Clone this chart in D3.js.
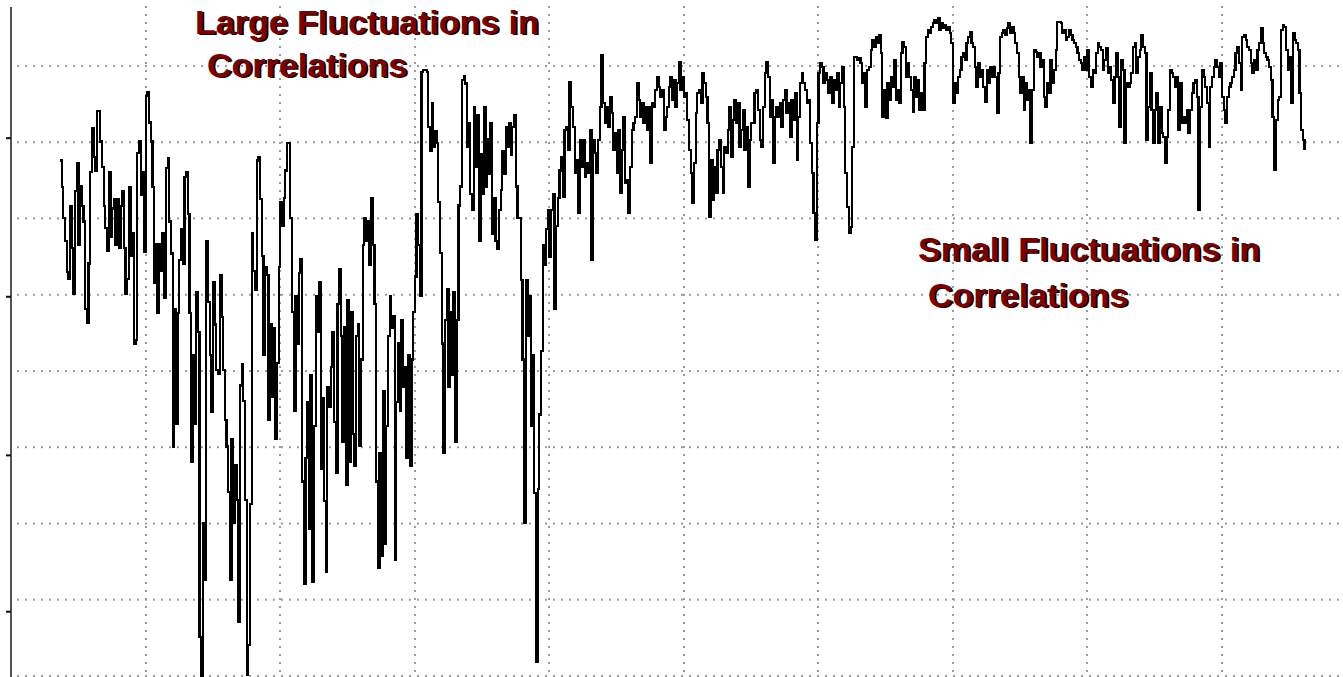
<!DOCTYPE html>
<html>
<head>
<meta charset="utf-8">
<script src="https://cdn.jsdelivr.net/npm/d3@7"></script>
<style>
  html, body { margin: 0; padding: 0; background: #fff; overflow: hidden; }
  svg { display: block; }
</style>
</head>
<body>
<div id="chart"></div>
<script>
// correlation series, one sample every 1.25 days starting at day 36.4
const startDay = 36.4;
const stepDay = 1.25;
const corrValues = [
  0.676,0.641,0.601,0.571,0.53,0.521,0.616,0.561,0.501,0.636,
  0.673,0.566,0.643,0.616,0.596,0.481,0.463,0.541,0.661,0.718,
  0.681,0.663,0.741,0.741,0.701,0.668,0.616,0.588,0.558,0.661,
  0.576,0.613,0.626,0.566,0.626,0.561,0.616,0.636,0.561,0.501,
  0.521,0.641,0.551,0.581,0.436,0.441,0.686,0.701,0.631,0.661,
  0.556,0.761,0.766,0.726,0.701,0.641,0.516,0.566,0.476,0.566,
  0.531,0.581,0.496,0.666,0.679,0.596,0.554,0.301,0.481,0.331,
  0.476,0.546,0.586,0.541,0.654,0.661,0.606,0.476,0.281,0.421,
  0.331,0.504,0.451,0.051,0.0,0.201,0.126,0.571,0.491,0.421,
  0.346,0.516,0.461,0.401,0.396,0.526,0.471,0.401,0.336,0.301,
  0.241,0.126,0.311,0.201,0.276,0.231,0.071,0.381,0.409,0.361,
  0.231,0.001,0.041,0.226,0.581,0.531,0.506,0.676,0.681,0.626,
  0.551,0.421,0.536,0.526,0.336,0.461,0.366,0.456,0.311,0.411,
  0.536,
  0.622,0.59,0.627,0.663,0.699,0.699,0.601,0.477,0.348,0.498,
  0.436,0.529,0.547,0.255,0.121,0.286,0.359,0.193,0.395,0.124,
  0.328,0.498,0.451,0.516,0.271,0.364,0.23,0.137,0.379,0.353,
  0.405,0.451,0.333,0.266,0.488,0.534,0.446,0.307,0.457,0.25,
  0.493,0.281,0.477,0.317,0.276,0.446,0.462,0.302,0.415,0.565,
  0.601,0.57,0.596,0.539,0.627,0.565,0.488,0.255,0.142,0.292,
  0.157,0.374,0.173,0.328,0.446,0.498,0.457,0.472,0.152,0.359,
  0.436,0.348,0.467,0.379,0.405,0.286,0.421,0.276,0.415,0.477,
  0.524,0.606,0.565,0.498,0.792,0.795,0.795,0.792,0.72,0.689,
  0.751,0.694,0.715,0.699,0.622,0.555,0.436,0.292,0.467,0.508,
  0.379,0.477,0.395,0.503,0.307,0.467,0.617,0.642,0.782,0.787,
  0.777,0.694,0.725,0.632,0.611,0.746,0.668,0.735,0.57,0.684,
  0.632,0.746,0.642,0.704,0.658,0.725,0.58,0.627,0.57,0.56,
  0.611,0.637,0.689,0.658,0.72,0.694,0.725,0.684,0.72,0.735,
  0.642,0.601,0.601,0.519,0.415,0.201,0.519,0.446,0.498,0.328,
  0.421,0.24,0.018,0.245,0.343,0.426,0.565,0.539,0.586,0.611,
  0.549,0.611,0.632,0.482,0.59,0.627,0.663,
  0.681,0.628,0.716,0.720,0.690,0.779,0.746,0.720,0.660,0.677,
  0.607,0.703,0.668,0.703,0.654,0.673,0.660,0.716,0.546,0.703,
  0.686,0.660,0.703,0.746,0.814,0.751,0.725,0.746,0.720,0.759,
  0.738,0.690,0.712,0.660,0.716,0.633,0.690,0.733,0.647,0.650,
  0.607,0.668,0.716,0.725,0.733,0.778,0.755,0.733,0.751,0.725,
  0.746,0.716,0.746,0.673,0.751,0.746,0.769,0.786,0.772,0.759,
  0.769,0.716,0.733,0.746,0.772,0.786,0.755,0.782,0.746,0.778,
  0.805,0.769,0.786,0.759,0.765,0.729,0.690,0.660,0.620,0.673,
  0.738,0.765,0.769,0.751,0.791,0.778,0.759,0.725,0.602,0.677,
  0.624,0.668,0.633,0.690,0.703,0.668,0.633,0.694,0.686,0.716,
  0.746,0.681,0.729,0.755,0.725,0.751,0.694,0.716,0.742,0.690,
  0.720,0.641,0.703,0.725,0.725,0.765,0.769,0.742,0.703,0.694,
  0.746,0.791,0.805,0.786,0.733,0.755,0.673,0.733,0.746,0.733,
  0.751,0.720,0.755,0.769,0.738,0.751,0.707,0.755,0.729,0.765,
  0.677,0.733,0.778,0.791,0.778,0.769,0.751,0.755,0.699,0.660,
  0.607,0.572,0.725,0.791,0.804,0.799,0.778,0.791,0.782,0.765,
  0.786,0.751,0.782,0.769,0.791,0.746,0.778,0.799,0.746,0.660,
  0.615,0.581,0.589,0.694,0.812,
  0.812,0.808,0.811,0.804,0.778,0.791,0.746,0.795,0.799,0.821,
  0.834,0.825,0.838,0.830,0.841,0.817,0.733,0.769,0.732,0.778,
  0.755,0.786,0.772,0.808,0.755,0.769,0.751,0.817,0.832,0.825,
  0.786,0.804,0.786,0.769,0.740,0.786,0.759,0.782,0.742,0.765,
  0.742,0.804,0.838,0.847,0.843,0.851,0.856,0.860,0.856,0.863,
  0.847,0.856,0.850,0.854,0.847,0.851,0.843,0.830,0.751,0.778,
  0.765,0.786,0.795,0.812,0.817,0.808,0.830,0.838,0.845,0.830,
  0.825,0.799,0.772,0.804,0.786,0.795,0.772,0.753,0.795,0.778,
  0.799,0.786,0.799,0.786,0.738,0.791,0.838,0.843,0.847,0.841,
  0.850,0.856,0.843,0.851,0.843,0.830,0.817,0.786,0.765,0.786,
  0.742,0.778,0.755,0.769,0.699,0.769,0.821,0.818,0.812,0.817,
  0.799,0.808,0.759,0.746,0.778,0.765,0.808,0.778,0.795,0.821,
  0.858,0.858,0.856,0.843,0.847,0.834,0.838,0.847,0.841,0.834,
  0.830,0.825,0.817,0.808,0.804,0.795,0.812,0.795,0.821,0.786,
  0.772,0.795,
  0.791,0.817,0.830,0.825,0.821,0.795,0.808,0.824,0.791,0.799,
  0.782,0.751,0.786,0.817,0.786,0.720,0.808,0.795,0.699,0.778,
  0.772,0.778,0.791,0.825,0.830,0.791,0.812,0.821,0.841,0.825,
  0.817,0.703,0.746,0.791,0.742,0.699,0.742,0.765,0.699,0.746,
  0.712,0.707,0.673,0.707,0.742,0.795,0.791,0.786,0.772,0.786,
  0.716,0.778,0.725,0.733,0.725,0.742,0.712,0.742,0.765,0.778,
  0.782,0.759,0.611,0.746,0.795,0.786,0.772,0.751,0.694,0.772,
  0.786,0.799,0.808,0.799,0.786,0.804,0.759,0.742,0.725,0.759,
  0.772,0.778,0.786,0.795,0.817,0.825,0.804,0.769,0.838,0.841,
  0.834,0.825,0.821,0.804,0.791,0.808,0.795,0.821,0.830,0.850,
  0.830,0.817,0.812,0.808,0.799,0.782,0.733,0.664,0.729,0.755,
  0.759,0.847,0.854,0.851,0.821,0.795,0.812,0.751,0.843,0.834,
  0.830,0.821,0.765,0.716,0.703,0.690
];
const xGridDays = [100, 200, 300, 400, 500, 600, 700, 800, 900];
const yGridValues = [0, 0.1, 0.2, 0.3, 0.4, 0.5, 0.6, 0.7, 0.8];
const yTickValues = [0.085, 0.29, 0.498, 0.706];
const noteLines1 = ["Large Fluctuations in", "Correlations"];
const noteLines2 = ["Small Fluctuations in", "Correlations"];

const width = 1343, height = 677;
const svg = d3.select('#chart').append('svg')
  .attr('width', width).attr('height', height)
  .attr('xmlns', 'http://www.w3.org/2000/svg');

const x = d3.scaleLinear().domain([0, 990]).range([11, 1343]);
const y = d3.scaleLinear().domain([0, 0.8]).range([676, 66]);

// dotted grid
const grid = svg.append('g').attr('stroke', '#9a9a9a').attr('stroke-width', 2)
  .attr('stroke-dasharray', '2,6');
grid.selectAll('line.h').data(yGridValues).join('line').attr('class', 'h')
  .attr('x1', 17).attr('x2', width).attr('y1', d => y(d)).attr('y2', d => y(d));
grid.selectAll('line.v').data(xGridDays).join('line').attr('class', 'v')
  .attr('x1', d => Math.round(x(d))).attr('x2', d => Math.round(x(d)))
  .attr('y1', 6).attr('y2', height);

// left axis
svg.append('line').attr('x1', 11).attr('x2', 11).attr('y1', 7).attr('y2', height)
  .attr('stroke', '#555').attr('stroke-width', 2);
const yAxis = svg.append('g').attr('transform', 'translate(11,0)')
  .call(d3.axisLeft(y).tickValues(yTickValues).tickSize(5).tickFormat(''));
yAxis.select('.domain').remove();
yAxis.selectAll('.tick line').attr('stroke', '#111').attr('stroke-width', 2);

// series
const line = d3.line()
  .x((d, i) => x(startDay + i * stepDay))
  .y(d => y(d))
  .curve(d3.curveStepAfter);
svg.append('path').datum(corrValues)
  .attr('d', line)
  .attr('fill', 'none').attr('stroke', '#000').attr('stroke-width', 2.2)
  .attr('stroke-linejoin', 'miter')
  .attr('shape-rendering', 'crispEdges');

// annotations
function note(lines, x0, y0, indent, gap) {
  const g = svg.append('g')
    .attr('font-family', '"Liberation Sans", Arial, sans-serif')
    .attr('font-weight', 'bold').attr('font-size', '34px');
  [['#000', 2, 1], ['#800000', 0, 0]].forEach(([col, dx, dy]) => {
    lines.forEach((t, i) => {
      g.append('text')
        .attr('x', x0 + (i ? indent : 0) + dx)
        .attr('y', y0 + i * gap + dy)
        .attr('fill', col)
        .text(t);
    });
  });
}
note(noteLines1, 195, 34, 12, 43);
note(noteLines2, 918, 261, 10, 46);
</script>
</body>
</html>
